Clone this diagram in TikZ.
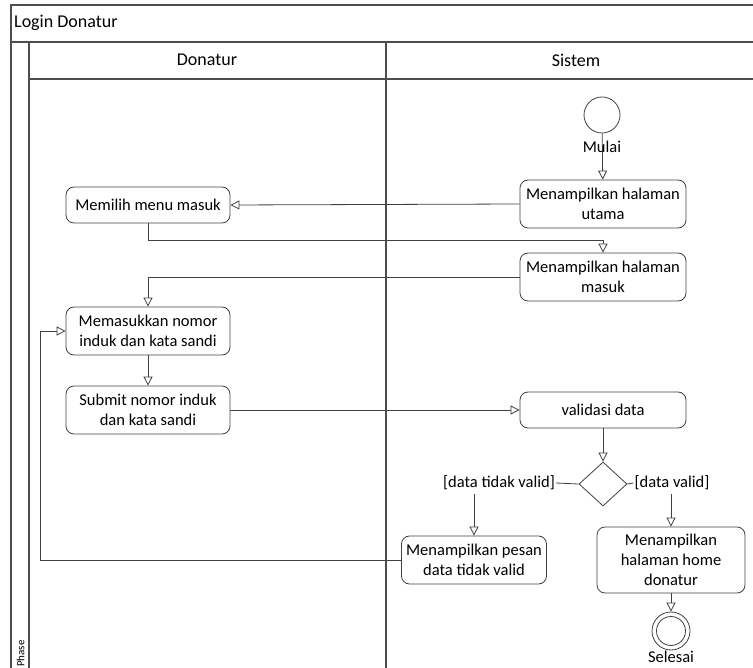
\documentclass[tikz,border=0pt]{standalone}
\usepackage{fontspec}
\setmainfont{Carlito}
\usetikzlibrary{arrows.meta,shapes.geometric}
\definecolor{ln}{HTML}{404040}
\tikzset{
  x=1pt,y=-1pt,
  act/.style={draw=ln,line width=0.8pt,rounded corners=8pt,minimum width=166pt,align=center,font=\fontsize{16.5}{20}\selectfont,inner sep=2pt},
  lbl/.style={font=\fontsize{16.5}{20}\selectfont,inner sep=1pt},
  hdr/.style={font=\fontsize{18}{22}\selectfont,inner sep=1pt},
  flow/.style={draw=ln,line width=0.8pt,-{Triangle[open,length=9pt,width=9pt]}},
  plain/.style={draw=ln,line width=0.8pt},
  frame/.style={draw=ln!80!gray,line width=1.1pt}
}
\begin{document}
\begin{tikzpicture}
\useasboundingbox (0,0) rectangle (753,668);
% frame
\draw[frame] (760,5) -- (11,5) -- (11,675);
\draw[frame] (11,42) -- (760,42);
\draw[frame] (29,42) -- (29,675);
\draw[frame] (29,79) -- (760,79);
\draw[frame] (386,42) -- (386,675);
\node[hdr,anchor=west] (title) at (13,23) {Login Donatur};
\node[hdr] (lane1) at (207,60) {Donatur};
\node[hdr] (lane2) at (576,60) {Sistem};
\node[font=\fontsize{11}{12}\selectfont,rotate=90,anchor=west,inner sep=0pt] (phase) at (20.5,667) {Phase};
% nodes
\node[circle,draw=ln,line width=0.8pt,minimum size=36pt,inner sep=0pt] (start) at (602,115) {};
\node[act,minimum height=48pt] (utama) at (603,204) {Menampilkan halaman\\utama};
\node[act,minimum height=36pt,minimum width=164pt] (pilih) at (148,205) {Memilih menu masuk};
\node[act,minimum height=48pt] (masuk) at (603,277) {Menampilkan halaman\\masuk};
\node[act,minimum height=48pt,minimum width=164pt] (isi) at (148,331) {Memasukkan nomor\\induk dan kata sandi};
\node[act,minimum height=48pt,minimum width=164pt] (submit) at (148,410) {Submit nomor induk\\dan kata sandi};
\node[act,minimum height=36pt] (valid) at (603,410) {validasi data};
\node[diamond,draw=ln,line width=0.8pt,minimum width=48pt,minimum height=44pt,inner sep=0pt] (dec) at (603,484) {};
\node[lbl] (no) at (499,483) {[data tidak valid]};
\node[lbl] (yes) at (672,483) {[data valid]};
\node[act,minimum height=48pt,minimum width=145pt] (pesan) at (474,560) {Menampilkan pesan\\data tidak valid};
\node[act,minimum height=66pt,minimum width=148pt] (home) at (671,560) {Menampilkan\\halaman home\\donatur};
\node[circle,draw=ln,line width=0.8pt,minimum size=38pt,inner sep=0pt] (end) at (671,631) {};
\node[circle,draw=ln,line width=0.8pt,minimum size=29pt,inner sep=0pt] (endin) at (671,631) {};
% edges
\draw[flow] (start) -- (utama);
\node[lbl] (mulai) at (602,147) {Mulai};
\draw[flow] (utama.west) -- (pilih.east);
\draw[flow] (pilih.south) -- ++(0,17) -| (masuk.north);
\draw[flow] (masuk.west) -| (isi.north);
\draw[flow] (isi) -- (submit);
\draw[flow] (submit.east) -- (valid.west);
\draw[flow] (valid) -- (dec);
\draw[plain] (dec.west) -- (no.east);
\draw[plain] (dec.east) -- (yes.west);
\draw[flow] (no.south -| pesan.north) ++(0,3) -- (pesan.north);
\draw[flow] (yes.south -| home.north) ++(0,3) -- (home.north);
\draw[flow] (pesan.west) -- (40,560) |- (isi.west);
\draw[flow] (home) -- (end);
\node[lbl] (selesai) at (671,657) {Selesai};
\end{tikzpicture}
\end{document}
